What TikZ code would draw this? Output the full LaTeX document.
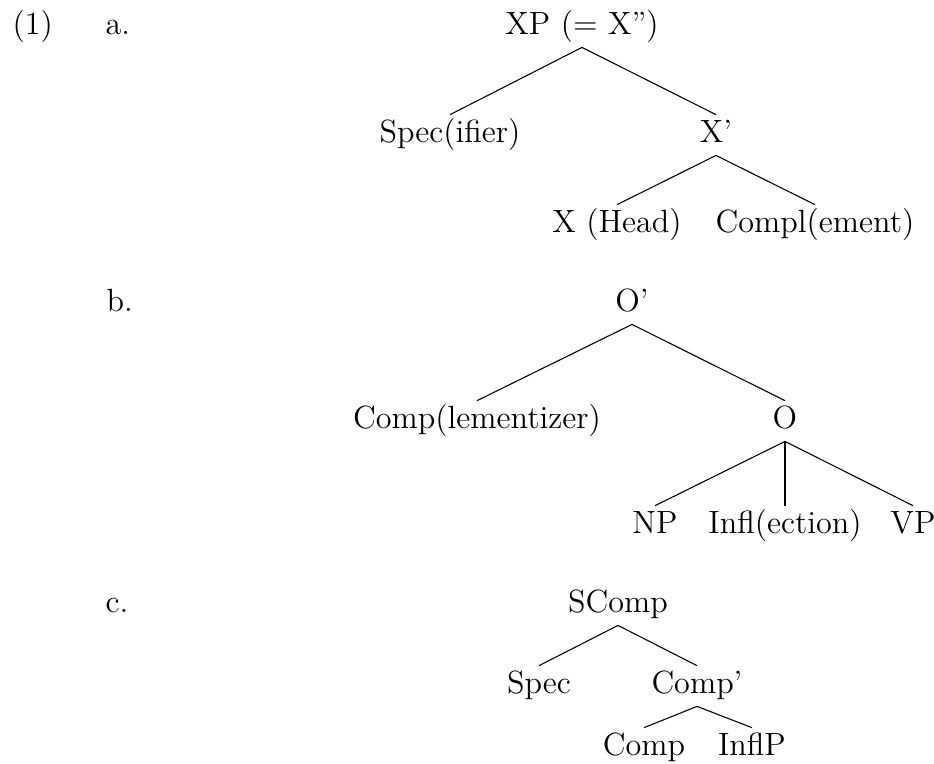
\documentclass[tikz,border=0pt]{standalone}
\begin{document}
\begin{tikzpicture}[x=0.3731pt,y=-0.3731pt,
  every node/.style={font=\fontsize{12}{14}\selectfont},
  lab/.style={anchor=base west, inner sep=0pt},
  tn/.style={anchor=base, inner sep=0pt, text height=10pt, text depth=4.8pt},
  br/.style={line width=0.4pt}]
\useasboundingbox (0,0) rectangle (934,764);
% labels
\node[lab] (l1) at (12,34) {(1)};
\node[lab] (la) at (105,34) {a.};
\node[lab] (lb) at (106,311) {b.};
\node[lab] (lc) at (105,612) {c.};
% tree a
\node[tn] (xp) at (582,34) {XP (= X'')};
\node[tn] (spec) at (450,142) {Spec(ifier)};
\node[tn] (xbar) at (716,142) {X'};
\node[tn] (xhead) at (617,232) {X (Head)};
\node[tn] (compl) at (815,232) {Compl(ement)};
\draw[br] (xp.south) -- (spec.north);
\draw[br] (xp.south) -- (xbar.north);
\draw[br] (xbar.south) -- (xhead.north);
\draw[br] (xbar.south) -- (compl.north);
% tree b
\node[tn] (obar) at (632,311) {O'};
\node[tn] (compz) at (477,428) {Comp(lementizer)};
\node[tn] (o) at (785,428) {O};
\node[tn] (np) at (655,533) {NP};
\node[tn] (infl) at (785,533) {Infl(ection)};
\node[tn] (vp) at (913,533) {VP};
\draw[br] (obar.south) -- (compz.north);
\draw[br] (obar.south) -- (o.north);
\draw[br] (o.south) -- (np.north);
\draw[br] (o.south) -- (infl.north);
\draw[br] (o.south) -- (vp.north);
% tree c
\node[tn] (scomp) at (618,612) {SComp};
\node[tn] (spec2) at (539,693) {Spec};
\node[tn] (compbar) at (697,693) {Comp'};
\node[tn] (comp) at (644,755) {Comp};
\node[tn] (inflp) at (752,755) {InflP};
\draw[br] (scomp.south) -- (spec2.north);
\draw[br] (scomp.south) -- (compbar.north);
\draw[br] (compbar.south) -- (comp.north);
\draw[br] (compbar.south) -- (inflp.north);
\end{tikzpicture}
\end{document}
